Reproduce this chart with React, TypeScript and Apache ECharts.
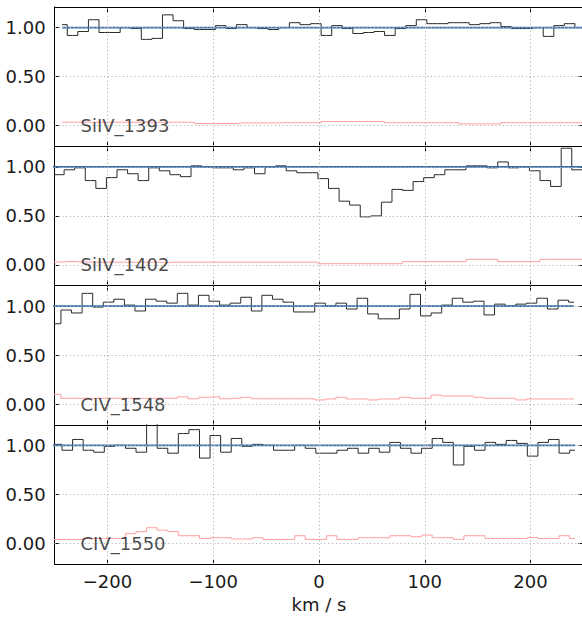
import React, { useEffect, useRef } from "react";
import * as echarts from "echarts";

const X_MIN = -250;
const X_MAX = 250;
const Y_MIN = -0.21;
const Y_MAX = 1.21;
const X_TICKS = [-200, -100, 0, 100, 200];
const Y_TICKS = [0, 0.5, 1];
const X_NAME = "km / s";
const LINE_NAMES = ["SiIV_1393", "SiIV_1402", "CIV_1548", "CIV_1550"];
const LABEL_VELOCITY = -225;
const LABEL_LEVEL = 0;
const CONTINUUM_LEVEL = 1.0;
const BIN_WIDTH = 10;
const V_START = [-243, -256, -259, -258];

const FLUX_SIIV_1393 = [1.03, 0.92, 0.96, 1.08, 0.95, 0.95, 1.0, 0.99, 0.88, 0.89, 1.13, 1.07, 0.99, 0.98, 0.98, 1.02, 0.99, 1.03, 1.0, 0.99, 0.98, 1.0, 1.05, 1.03, 1.04, 0.92, 1.02, 0.99, 0.94, 0.95, 0.96, 0.92, 0.99, 1.02, 1.08, 1.04, 1.04, 1.05, 1.05, 1.03, 1.04, 1.05, 1.01, 0.99, 0.99, 1.0, 0.91, 1.02, 1.04, 1.0, 1.0];
const ERR_SIIV_1393 = [0.035, 0.035, 0.035, 0.035, 0.035, 0.035, 0.035, 0.035, 0.035, 0.035, 0.035, 0.035, 0.035, 0.022, 0.022, 0.022, 0.022, 0.028, 0.028, 0.028, 0.028, 0.03, 0.03, 0.03, 0.03, 0.042, 0.042, 0.042, 0.042, 0.042, 0.042, 0.03, 0.03, 0.03, 0.03, 0.03, 0.03, 0.03, 0.018, 0.018, 0.018, 0.018, 0.03, 0.03, 0.03, 0.03, 0.03, 0.03, 0.03, 0.03, 0.03];

const FLUX_SIIV_1402 = [0.92, 0.92, 0.97, 0.99, 0.86, 0.78, 0.89, 0.97, 0.93, 0.86, 0.99, 0.96, 0.92, 0.9, 1.01, 1.0, 0.99, 0.99, 0.97, 0.99, 0.93, 1.0, 1.01, 0.96, 0.94, 0.94, 0.88, 0.78, 0.65, 0.61, 0.49, 0.5, 0.64, 0.77, 0.76, 0.85, 0.89, 0.92, 0.97, 0.97, 1.01, 1.01, 0.99, 1.05, 0.99, 1.0, 0.96, 0.86, 0.8, 1.19, 0.97, 0.97];
const ERR_SIIV_1402 = [0.028, 0.03, 0.035, 0.03, 0.028, 0.028, 0.028, 0.028, 0.028, 0.028, 0.028, 0.024, 0.028, 0.028, 0.028, 0.028, 0.028, 0.028, 0.028, 0.028, 0.028, 0.028, 0.028, 0.028, 0.028, 0.028, 0.012, 0.012, 0.012, 0.012, 0.012, 0.012, 0.012, 0.012, 0.033, 0.033, 0.033, 0.033, 0.033, 0.033, 0.057, 0.057, 0.057, 0.033, 0.033, 0.033, 0.033, 0.057, 0.057, 0.057, 0.057, 0.057];

const FLUX_CIV_1548 = [0.82, 0.82, 0.96, 0.93, 1.13, 0.99, 1.04, 1.07, 1.01, 0.95, 1.07, 1.05, 1.03, 1.13, 1.01, 1.11, 1.05, 1.01, 1.03, 1.09, 0.95, 1.11, 1.07, 1.04, 0.94, 0.94, 1.03, 1.0, 1.03, 0.97, 1.08, 0.92, 0.87, 0.87, 0.97, 1.12, 0.9, 0.93, 1.01, 1.08, 1.04, 1.05, 0.91, 1.02, 1.0, 1.02, 1.03, 1.08, 0.97, 1.06, 1.04];
const ERR_CIV_1548 = [0.1, 0.1, 0.06, 0.06, 0.06, 0.06, 0.06, 0.06, 0.06, 0.06, 0.06, 0.06, 0.06, 0.075, 0.055, 0.07, 0.075, 0.055, 0.06, 0.07, 0.055, 0.055, 0.055, 0.055, 0.055, 0.055, 0.043, 0.053, 0.07, 0.053, 0.053, 0.043, 0.053, 0.053, 0.07, 0.06, 0.06, 0.093, 0.083, 0.083, 0.083, 0.07, 0.06, 0.06, 0.06, 0.043, 0.053, 0.053, 0.053, 0.053, 0.053];

const FLUX_CIV_1550 = [1.01, 1.01, 0.95, 1.06, 0.95, 0.93, 0.99, 1.0, 0.97, 0.93, 1.3, 0.97, 0.92, 1.12, 1.16, 0.87, 1.1, 0.93, 1.07, 0.99, 1.01, 1.0, 0.95, 0.95, 1.0, 0.97, 0.92, 0.92, 0.95, 0.97, 0.92, 0.97, 0.93, 1.03, 0.97, 0.92, 0.97, 1.07, 1.03, 0.8, 0.99, 0.95, 1.03, 1.01, 1.05, 1.02, 0.89, 1.03, 1.06, 0.92, 0.95];
const ERR_CIV_1550 = [0.04, 0.04, 0.04, 0.04, 0.05, 0.05, 0.05, 0.05, 0.1, 0.12, 0.16, 0.135, 0.12, 0.078, 0.078, 0.05, 0.058, 0.058, 0.045, 0.045, 0.058, 0.04, 0.04, 0.04, 0.078, 0.041, 0.041, 0.078, 0.041, 0.041, 0.058, 0.058, 0.058, 0.078, 0.078, 0.068, 0.085, 0.058, 0.058, 0.041, 0.078, 0.078, 0.05, 0.05, 0.05, 0.05, 0.06, 0.05, 0.05, 0.078, 0.05];

const FLUXES = [FLUX_SIIV_1393, FLUX_SIIV_1402, FLUX_CIV_1548, FLUX_CIV_1550];
const ERRORS = [ERR_SIIV_1393, ERR_SIIV_1402, ERR_CIV_1548, ERR_CIV_1550];

const FONT = "DejaVu Sans";
const TEXT_COLOR = "#1a1a1a";

function buildOption() {
  const left = 54.6;
  const width = 528.8;
  const top0 = 7;
  const h = 139.25;
  const grids: any[] = [];
  const xAxes: any[] = [];
  const yAxes: any[] = [];
  const series: any[] = [];
  const tickStyle = { color: "#000", width: 1 };
  const axisLine = { show: true, onZero: false, lineStyle: { color: "#000", width: 1 } };
  const n = LINE_NAMES.length;

  LINE_NAMES.forEach((name, i) => {
    const isBottom = i === n - 1;
    grids.push({ left, width, top: top0 + i * h, height: h, containLabel: false, outerBoundsMode: "none" });
    xAxes.push({
      gridIndex: i, type: "value", min: X_MIN, max: X_MAX, position: "bottom",
      axisLine,
      axisTick: { show: true, inside: true, length: 5, customValues: X_TICKS, lineStyle: tickStyle },
      axisLabel: {
        show: isBottom, customValues: X_TICKS, margin: 8, fontSize: 18, fontFamily: FONT, color: TEXT_COLOR,
        formatter: (v: number) => (v < 0 ? "\u2212" + Math.abs(v) : String(v)),
      },
      splitLine: { show: false },
      name: isBottom ? X_NAME : "",
      nameLocation: "middle", nameGap: 31,
      nameTextStyle: { fontSize: 18, fontFamily: FONT, color: TEXT_COLOR },
    });
    xAxes.push({
      gridIndex: i, type: "value", min: X_MIN, max: X_MAX, position: "top",
      axisLine,
      axisTick: { show: true, inside: true, length: 5, customValues: X_TICKS, lineStyle: tickStyle },
      axisLabel: { show: false, customValues: X_TICKS },
      splitLine: { show: false },
    });
    yAxes.push({
      gridIndex: i, type: "value", min: Y_MIN, max: Y_MAX, position: "left",
      axisLine,
      axisTick: { show: true, inside: true, length: 5, customValues: Y_TICKS, lineStyle: tickStyle },
      axisLabel: {
        show: true, customValues: Y_TICKS, margin: 9, fontSize: 18, fontFamily: FONT, color: TEXT_COLOR,
        formatter: (v: number) => v.toFixed(2),
      },
      splitLine: { show: false },
    });
    yAxes.push({
      gridIndex: i, type: "value", min: Y_MIN, max: Y_MAX, position: "right",
      axisLine,
      axisTick: { show: true, inside: true, length: 5, customValues: Y_TICKS, lineStyle: tickStyle },
      axisLabel: { show: false, customValues: Y_TICKS },
      splitLine: { show: false },
    });

    const flux = FLUXES[i];
    const err = ERRORS[i];
    const vel = flux.map((_, k) => V_START[i] + k * BIN_WIDTH);
    const xi = 2 * i;
    const yi = 2 * i;

    series.push({
      type: "line", xAxisIndex: xi, yAxisIndex: yi, step: "middle", symbol: "none", silent: true,
      data: vel.map((v, k) => [v, err[k]]),
      lineStyle: { color: "#ff9e9e", width: 1 },
      z: 2,
      markLine: {
        silent: true, symbol: ["none", "none"], label: { show: false },
        lineStyle: { type: [1.2, 2.6], color: "#b4b4b4", width: 1 },
        emphasis: { disabled: true },
        data: [
          ...X_TICKS.map((t) => ({ xAxis: t })),
          ...Y_TICKS.map((t) => ({ yAxis: t })),
        ],
      },
    });
    series.push({
      type: "line", xAxisIndex: xi, yAxisIndex: yi, step: "middle", symbol: "none", silent: true,
      data: vel.map((v, k) => [v, flux[k]]),
      lineStyle: { color: "#2a2a2a", width: 1 },
      z: 3,
    });
    series.push({
      type: "line", xAxisIndex: xi, yAxisIndex: yi, symbol: "none", silent: true,
      data: [[vel[0], CONTINUUM_LEVEL], [vel[vel.length - 1], CONTINUUM_LEVEL]],
      lineStyle: { color: "#3a6fae", width: 1.6 },
      z: 4,
    });
    series.push({
      type: "scatter", xAxisIndex: xi, yAxisIndex: yi, silent: true,
      data: [[LABEL_VELOCITY, LABEL_LEVEL]],
      symbolSize: 1,
      itemStyle: { color: "rgba(0,0,0,0)" },
      label: {
        show: true, position: [0, 0.5], align: "left", verticalAlign: "middle",
        formatter: () => name, fontSize: 18, fontFamily: FONT, color: TEXT_COLOR,
      },
      z: 5,
    });
  });

  return {
    animation: false,
    backgroundColor: "#ffffff",
    grid: grids,
    xAxis: xAxes,
    yAxis: yAxes,
    series,
  };
}

export default function App() {
  const ref = useRef<HTMLDivElement>(null);
  useEffect(() => {
    if (!ref.current) return;
    const chart = echarts.init(ref.current, undefined, { renderer: "svg" });
    chart.setOption(buildOption() as any);
    return () => chart.dispose();
  }, []);
  return (
    <div
      ref={ref}
      style={{ position: "absolute", left: 0, top: 0, width: 582, height: 619, background: "#fff" }}
    />
  );
}
